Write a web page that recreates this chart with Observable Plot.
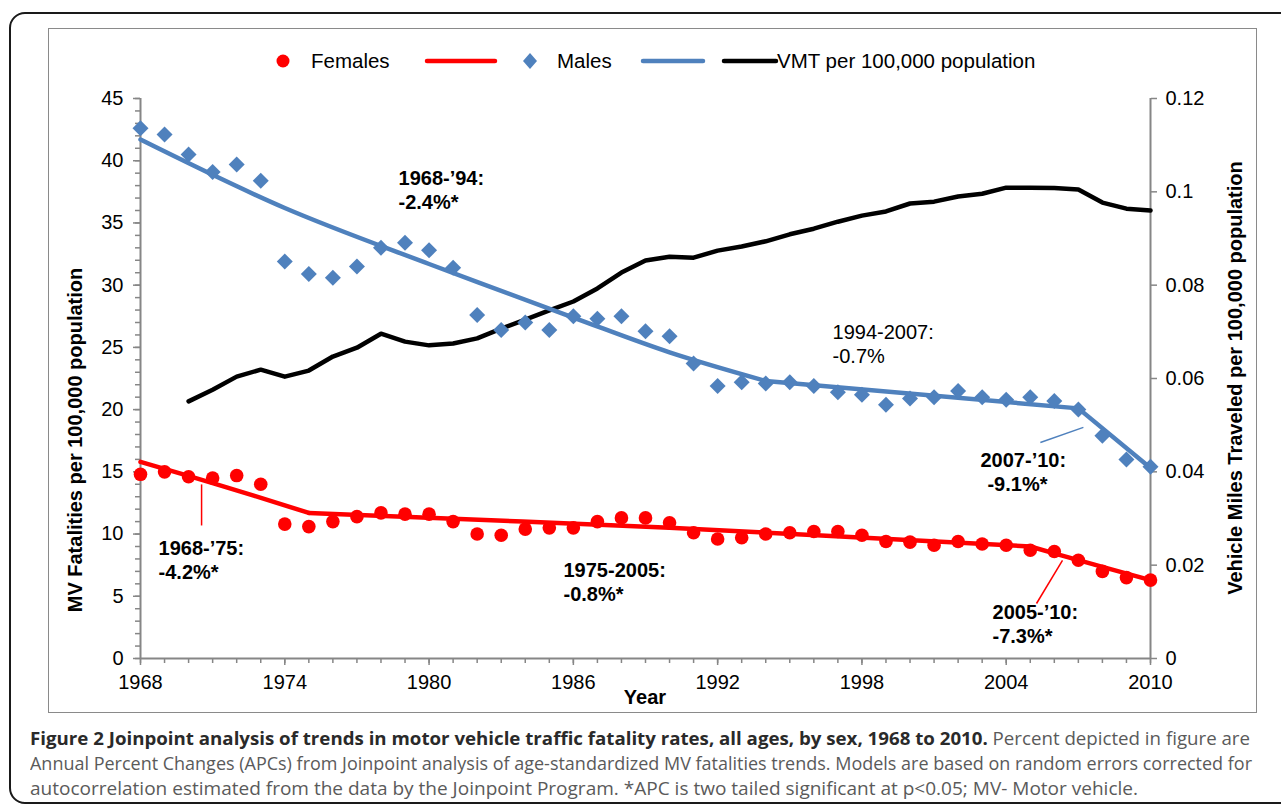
<!DOCTYPE html>
<html><head><meta charset="utf-8">
<script src="https://cdn.jsdelivr.net/npm/d3@7"></script>
<script src="https://cdn.jsdelivr.net/npm/@observablehq/plot@0.6"></script>
<style>
body{margin:0;background:#fff;}
#wrap{position:relative;width:1281px;height:809px;overflow:hidden;font-family:"Liberation Sans",Arial,sans-serif;}
#outer{position:absolute;left:9px;top:12px;width:1300px;height:792px;border:2px solid #1a1a1a;border-radius:16px;box-sizing:border-box;}
#inner{position:absolute;left:48px;top:28px;width:1209px;height:685px;border:1.5px solid #8a8a8a;box-sizing:border-box;}
#chart{position:absolute;left:0;top:0;}
#legend{position:absolute;left:0;top:41px;}
.ytitle{position:absolute;font-weight:bold;font-size:20px;white-space:nowrap;transform:translate(-50%,-50%) rotate(-90deg);}
#xtitle{position:absolute;left:645px;top:697px;font-weight:bold;font-size:20px;transform:translate(-50%,-50%);}
#cap{position:absolute;left:30px;top:725px;font-family:"Open Sans",sans-serif;font-size:18.5px;line-height:25px;color:#5a5a5a;white-space:nowrap;}
#cap .ln{display:block;width:max-content;transform-origin:0 50%;}
#cap b{color:#2a2a2a;}
</style></head>
<body>
<div id="wrap">
  <div id="outer"></div>
  <div id="inner"></div>
  <div id="chart"></div>
  <svg id="legend" width="1281" height="40" font-family="Liberation Sans, Arial, sans-serif" font-size="20.5">
    <circle cx="283" cy="20" r="6.5" fill="#ff0000"/>
    <text x="311" y="27">Females</text>
    <line x1="427" x2="495" y1="20" y2="20" stroke="#ff0000" stroke-width="4.5" stroke-linecap="round"/>
    <path d="M530,12 L537,20 L530,28 L523,20 Z" fill="#4f81bd"/>
    <text x="557" y="27">Males</text>
    <line x1="643" x2="703" y1="20" y2="20" stroke="#4f81bd" stroke-width="4.5" stroke-linecap="round"/>
    <line x1="724" x2="776" y1="20" y2="20" stroke="#000" stroke-width="4.5" stroke-linecap="round"/>
    <text x="777" y="27">VMT per 100,000 population</text>
  </svg>
  <div class="ytitle" style="left:75px;top:440px;">MV Fatalities per 100,000 population</div>
  <div class="ytitle" style="left:1235px;top:378px;">Vehicle Miles Traveled per 100,000 population</div>
  <div id="xtitle">Year</div>
  <div id="cap"><span class="ln" data-w="1220"><b>Figure 2 Joinpoint analysis of trends in motor vehicle traffic fatality rates, all ages, by sex, 1968 to 2010.</b> Percent depicted in figure are</span><span class="ln" data-w="1222">Annual Percent Changes (APCs) from Joinpoint analysis of age-standardized MV fatalities trends. Models are based on random errors corrected for</span><span class="ln" data-w="1108">autocorrelation estimated from the data by the Joinpoint Program. *APC is two tailed significant at p&lt;0.05; MV- Motor vehicle.</span></div>
</div>
<script>
// ---- data ----
const years = [1968,1969,1970,1971,1972,1973,1974,1975,1976,1977,1978,1979,1980,1981,1982,1983,1984,1985,1986,1987,1988,1989,1990,1991,1992,1993,1994,1995,1996,1997,1998,1999,2000,2001,2002,2003,2004,2005,2006,2007,2008,2009,2010];
const femaleRates = [14.8,15.0,14.6,14.5,14.7,14.0,10.8,10.6,11.0,11.4,11.7,11.6,11.6,11.0,10.0,9.9,10.4,10.5,10.5,11.0,11.3,11.3,10.9,10.1,9.6,9.7,10.0,10.1,10.2,10.2,9.9,9.4,9.35,9.1,9.4,9.2,9.1,8.7,8.6,7.9,7.0,6.5,6.3];
const maleRates = [42.6,42.1,40.5,39.1,39.7,38.4,31.9,30.9,30.6,31.5,33.0,33.4,32.8,31.4,27.6,26.4,27.0,26.4,27.5,27.3,27.5,26.3,25.9,23.7,21.9,22.2,22.1,22.2,21.9,21.4,21.2,20.4,20.9,21.0,21.5,21.0,20.8,21.0,20.7,20.0,17.9,16.0,15.4];
const vmtYears = [1970,1971,1972,1973,1974,1975,1976,1977,1978,1979,1980,1981,1982,1983,1984,1985,1986,1987,1988,1989,1990,1991,1992,1993,1994,1995,1996,1997,1998,1999,2000,2001,2002,2003,2004,2005,2006,2007,2008,2009,2010];
const vmtValues = [0.0551,0.0576,0.0604,0.0619,0.0604,0.0617,0.0647,0.0666,0.0696,0.0679,0.0671,0.0675,0.0686,0.0707,0.0726,0.0746,0.0765,0.0793,0.0827,0.0853,0.0861,0.0859,0.0874,0.0883,0.0894,0.0909,0.0921,0.0936,0.0949,0.0958,0.0975,0.0979,0.0990,0.0996,0.1009,0.1009,0.1008,0.1005,0.0977,0.0964,0.0960];
// joinpoint fitted values
const femaleFitYears = [1968,1971,1975,1990,2005,2007,2010];
const femaleFitValues = [15.8,14.1,11.7,10.5,9.0,7.9,6.3];
const femaleJoinpoints = [1968,1975,2005,2010];
const maleFitYears = [1968,1974,1980,1986,1990,1994,2007,2010];
const maleFitValues = [41.7,36.2,31.7,27.4,24.6,22.3,20.1,15.3];
const maleJoinpoints = [1968,1994,2007,2010];
const leftTicks = [0,5,10,15,20,25,30,35,40,45];
const rightTicks = [0,0.02,0.04,0.06,0.08,0.1,0.12];
const xTickYears = [1968,1974,1980,1986,1992,1998,2004,2010];
const annotations = [
  {x:1978.73, y:38.57, text:"1968-’94:", bold:true},
  {x:1978.73, y:36.64, text:"-2.4%*", bold:true},
  {x:1996.78, y:26.20, text:"1994-2007:", bold:false},
  {x:1996.78, y:24.27, text:"-0.7%", bold:false},
  {x:2002.93, y:15.91, text:"2007-’10:", bold:true},
  {x:2003.22, y:13.98, text:"-9.1%*", bold:true},
  {x:1968.75, y:8.84, text:"1968-’75:", bold:true},
  {x:1968.75, y:6.91, text:"-4.2%*", bold:true},
  {x:1985.59, y:7.07, text:"1975-2005:", bold:true},
  {x:1985.59, y:5.14, text:"-0.8%*", bold:true},
  {x:2003.43, y:3.70, text:"2005-’10:", bold:true},
  {x:2003.43, y:1.77, text:"-7.3%*", bold:true}
];
const leaders = [
  {x1:2005.42, y1:17.36, x2:2007.21, y2:18.57, color:"#4f81bd"},
  {x1:1970.54, y1:13.99, x2:1970.54, y2:10.69, color:"#ff0000"},
  {x1:2005.26, y1:4.42, x2:2006.34, y2:7.88, color:"#ff0000"}
];

// ---- build ----
const RIGHT = 45 / 0.12; // right-axis units -> left-axis units
const females = years.map((y,i)=>({year:y, v:femaleRates[i]}));
const males = years.map((y,i)=>({year:y, v:maleRates[i]}));
const vmt = vmtYears.map((y,i)=>({year:y, v:vmtValues[i]*RIGHT}));
function segments(ys, vs, joins){
  const pts = ys.map((y,i)=>({year:y, v:vs[i]}));
  const out = [];
  for (let k=0; k<joins.length-1; k++){
    out.push(pts.filter(p=>p.year>=joins[k] && p.year<=joins[k+1]));
  }
  return out;
}
const fSegs = segments(femaleFitYears, femaleFitValues, femaleJoinpoints);
const mSegs = segments(maleFitYears, maleFitValues, maleJoinpoints);
const gray = "#868686";
const RED = "#ff0000", BLUE = "#4f81bd";

const chart = Plot.plot({
  width:1281, height:720,
  marginLeft:140, marginRight:131, marginTop:98, marginBottom:62,
  x:{domain:[1968,2010]},
  y:{domain:[0,45]},
  style:{fontFamily:"Liberation Sans, Arial, sans-serif", fontSize:"20px", color:"#000", background:"transparent", overflow:"visible"},
  marks:[
    Plot.axisY({ticks:d3.range(0,46,1), tickSize:5, tickFormat:()=>"", stroke:gray, strokeWidth:1.5, label:null}),
    Plot.axisY({ticks:leftTicks, tickSize:7, tickPadding:10, tickFormat:d=>String(d), stroke:gray, strokeWidth:1.5, fontSize:20, label:null}),
    Plot.axisY({anchor:"right", ticks:rightTicks.map(t=>t*RIGHT), tickSize:6, tickPadding:9, tickFormat:d=>String(+(d/RIGHT).toFixed(2)), stroke:gray, strokeWidth:1.5, fontSize:20, label:null}),
    Plot.axisX({ticks:years, tickSize:5, tickFormat:()=>"", stroke:gray, strokeWidth:1.5, label:null}),
    Plot.axisX({ticks:xTickYears, tickSize:7, tickPadding:9, tickFormat:d=>String(d), stroke:gray, strokeWidth:1.5, fontSize:20, label:null}),
    Plot.ruleX([1968,2010], {stroke:gray, strokeWidth:2}),
    Plot.ruleY([0], {stroke:gray, strokeWidth:2}),
    Plot.line(vmt, {x:"year", y:"v", stroke:"#000", strokeWidth:4.5}),
    ...mSegs.map(s=>Plot.line(s, {x:"year", y:"v", stroke:BLUE, strokeWidth:4.5, curve:"catmull-rom"})),
    ...fSegs.map(s=>Plot.line(s, {x:"year", y:"v", stroke:RED, strokeWidth:4.5, curve:"catmull-rom"})),
    Plot.dot(males, {x:"year", y:"v", symbol:"diamond2", r:7.2, fill:BLUE, stroke:null}),
    Plot.dot(females, {x:"year", y:"v", r:6.8, fill:RED, stroke:null}),
    Plot.link(leaders, {x1:"x1", y1:"y1", x2:"x2", y2:"y2", stroke:"color", strokeWidth:1.5}),
    Plot.text(annotations.filter(d=>d.bold), {x:"x", y:"y", text:"text", textAnchor:"start", fontWeight:"bold", fontSize:20, fill:"#000"}),
    Plot.text(annotations.filter(d=>!d.bold), {x:"x", y:"y", text:"text", textAnchor:"start", fontSize:20, fill:"#000"})
  ]
});
document.getElementById("chart").appendChild(chart);

// fit caption lines to the reference widths
document.querySelectorAll("#cap .ln").forEach(el=>{
  const target = +el.dataset.w;
  const w = el.getBoundingClientRect().width;
  if (w > 0) el.style.transform = `scaleX(${target / w})`;
});
</script>
</body></html>
